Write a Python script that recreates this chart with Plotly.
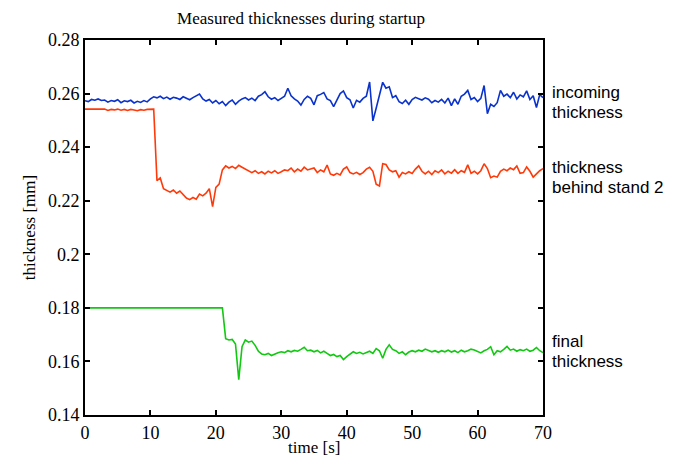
import numpy as np
import plotly.graph_objects as go

dt = 0.5  # sampling step of the read-off curves [s]

incoming = [
    0.2573, 0.2570, 0.2578, 0.2575, 0.2580, 0.2574, 0.2576, 0.2568, 0.2574, 0.2571,
    0.2577, 0.2566, 0.2573, 0.2570, 0.2575, 0.2565, 0.2571, 0.2567, 0.2574, 0.2569,
    0.2580, 0.2588, 0.2584, 0.2590, 0.2581, 0.2587, 0.2579, 0.2586, 0.2583, 0.2578,
    0.2588, 0.2582, 0.2577, 0.2585, 0.2592, 0.2598, 0.2580, 0.2572, 0.2578, 0.2565,
    0.2574, 0.2562, 0.2570, 0.2555, 0.2568, 0.2576, 0.2560, 0.2572, 0.2580, 0.2585,
    0.2576, 0.2583, 0.2574, 0.2590, 0.2596, 0.2607, 0.2588, 0.2579, 0.2585, 0.2574,
    0.2582, 0.2590, 0.2620, 0.2592, 0.2580, 0.2572, 0.2557, 0.2578, 0.2590, 0.2582,
    0.2558, 0.2592, 0.2597, 0.2604, 0.2580, 0.2574, 0.2551, 0.2578, 0.2600, 0.2610,
    0.2585, 0.2577, 0.2546, 0.2575, 0.2568, 0.2582, 0.2590, 0.2643, 0.2498, 0.2545,
    0.2595, 0.2642, 0.2620, 0.2625, 0.2585, 0.2592, 0.2570, 0.2563, 0.2575, 0.2560,
    0.2578, 0.2586, 0.2581, 0.2576, 0.2584, 0.2579, 0.2566, 0.2574, 0.2568, 0.2578,
    0.2565, 0.2583, 0.2555, 0.2580, 0.2560, 0.2590, 0.2598, 0.2612, 0.2578, 0.2585,
    0.2570, 0.2582, 0.2630, 0.2525, 0.2560, 0.2552, 0.2566, 0.2612, 0.2590, 0.2598,
    0.2585, 0.2605, 0.2580, 0.2595, 0.2588, 0.2610, 0.2578, 0.2592, 0.2548, 0.2596,
    0.2585,
]

behind_stand2 = [
    0.2542, 0.2542, 0.2542, 0.2542, 0.2542, 0.2541, 0.2542, 0.2537, 0.2541, 0.2539,
    0.2542, 0.2538, 0.2541, 0.2537, 0.2541, 0.2539, 0.2536, 0.2540, 0.2538, 0.2541,
    0.2542, 0.2542, 0.2275, 0.2285, 0.2245, 0.2238, 0.2232, 0.2240, 0.2228, 0.2236,
    0.2222, 0.2210, 0.2204, 0.2212, 0.2206, 0.2225, 0.2218, 0.2228, 0.2245, 0.2178,
    0.2250, 0.2262, 0.2315, 0.2330, 0.2322, 0.2328, 0.2320, 0.2332, 0.2325, 0.2318,
    0.2310, 0.2305, 0.2312, 0.2302, 0.2308, 0.2300, 0.2310, 0.2304, 0.2312, 0.2302,
    0.2308, 0.2315, 0.2312, 0.2322, 0.2308, 0.2318, 0.2310, 0.2325, 0.2315, 0.2320,
    0.2322, 0.2305, 0.2315, 0.2308, 0.2333, 0.2300, 0.2295, 0.2302, 0.2296, 0.2318,
    0.2326, 0.2305, 0.2300, 0.2306, 0.2298, 0.2305, 0.2318, 0.2325, 0.2310, 0.2262,
    0.2255, 0.2338, 0.2335, 0.2315, 0.2308, 0.2312, 0.2288, 0.2305, 0.2300, 0.2308,
    0.2302, 0.2318, 0.2330, 0.2310, 0.2300, 0.2310, 0.2298, 0.2312, 0.2305, 0.2315,
    0.2300, 0.2310, 0.2303, 0.2316, 0.2302, 0.2312, 0.2306, 0.2334, 0.2302, 0.2310,
    0.2300, 0.2312, 0.2338, 0.2320, 0.2286, 0.2292, 0.2288, 0.2310, 0.2318, 0.2312,
    0.2322, 0.2316, 0.2330, 0.2302, 0.2305, 0.2326, 0.2310, 0.2288, 0.2300, 0.2312,
    0.2320,
]

final = [0.1800] * 43 + [
    0.1685, 0.1680, 0.1682, 0.1665, 0.1532, 0.1655, 0.1680, 0.1672, 0.1676, 0.1660,
    0.1638, 0.1628, 0.1625, 0.1630, 0.1622, 0.1628, 0.1632, 0.1636, 0.1633, 0.1640,
    0.1636, 0.1641, 0.1638, 0.1645, 0.1653, 0.1640, 0.1642, 0.1636, 0.1641, 0.1632,
    0.1638, 0.1630, 0.1622, 0.1626, 0.1618, 0.1622, 0.1607, 0.1618, 0.1628, 0.1636,
    0.1630, 0.1634, 0.1628, 0.1632, 0.1638, 0.1630, 0.1648, 0.1640, 0.1612, 0.1645,
    0.1662, 0.1645, 0.1640, 0.1630, 0.1636, 0.1625, 0.1635, 0.1640, 0.1636, 0.1642,
    0.1638, 0.1646, 0.1640, 0.1636, 0.1640, 0.1634, 0.1640, 0.1636, 0.1642, 0.1635,
    0.1640, 0.1633, 0.1642, 0.1636, 0.1640, 0.1646, 0.1643, 0.1638, 0.1632, 0.1640,
    0.1645, 0.1655, 0.1625, 0.1640, 0.1636, 0.1645, 0.1656, 0.1642, 0.1646, 0.1638,
    0.1644, 0.1640, 0.1646, 0.1638, 0.1642, 0.1652, 0.1640, 0.1633,
]

series = [
    (["incoming", "thickness"], incoming, "#0a32cc", 0.2565),
    (["thickness", "behind stand 2"], behind_stand2, "#ff3a0a", 0.2285),
    (["final", "thickness"], final, "#12c812", 0.1636),
]

x_ticks = [0, 10, 20, 30, 40, 50, 60, 70]
y_ticks = [0.14, 0.16, 0.18, 0.20, 0.22, 0.24, 0.26, 0.28]
y_ticktext = ["0.14", "0.16", "0.18", "0.2", "0.22", "0.24", "0.26", "0.28"]

serif = "Liberation Serif, Times New Roman, serif"
sans = "Liberation Sans, Arial, sans-serif"

fig = go.Figure()
for lines, vals, color, ylab in series:
    t = np.arange(len(vals)) * dt
    fig.add_trace(go.Scatter(x=t, y=vals, mode="lines",
                             line=dict(color=color, width=1.6),
                             showlegend=False, hoverinfo="skip"))
    for k, txt in enumerate(lines):
        fig.add_annotation(x=1.0, xref="paper", y=ylab, yref="y", text=txt,
                           showarrow=False, xanchor="left", yanchor="middle",
                           xshift=7, yshift=10 - 20 * k, align="left",
                           font=dict(family=sans, size=17, color="black"))

# x-axis title as an annotation (placed a little closer to the tick labels)
fig.add_annotation(x=0.5, xref="paper", y=0, yref="paper", text="time [s]",
                   showarrow=False, xanchor="center", yanchor="middle", yshift=-32,
                   font=dict(family=serif, size=17, color="black"))

axis_common = dict(showline=True, linecolor="black", linewidth=2, mirror="allticks",
                   ticks="inside", ticklen=5, tickwidth=1.5, tickcolor="black",
                   showgrid=False, zeroline=False, automargin=False,
                   tickfont=dict(family=serif, size=18, color="black"))

fig.update_xaxes(range=[0, 70], tickvals=x_ticks, **axis_common)
fig.update_yaxes(range=[0.14, 0.28], tickvals=y_ticks, ticktext=y_ticktext,
                 title=dict(text="thickness [mm]", font=dict(family=serif, size=17, color="black"),
                            standoff=8),
                 **axis_common)

W, H = 674, 460
fig.update_layout(
    template="none",
    width=W, height=H,
    margin=dict(l=85, r=131, t=40, b=45, autoexpand=False),
    paper_bgcolor="white", plot_bgcolor="white",
    title=dict(text="Measured thicknesses during startup", x=301 / W, xanchor="center",
               y=1 - 18 / H, yanchor="middle",
               font=dict(family=serif, size=17, color="black")),
)

# remove the browser's default 8px page margin so the figure sits at (0, 0)
fig.write_html("out.html", config={"displayModeBar": False},
               post_script="document.body.style.margin='0';document.body.style.overflow='hidden';")
